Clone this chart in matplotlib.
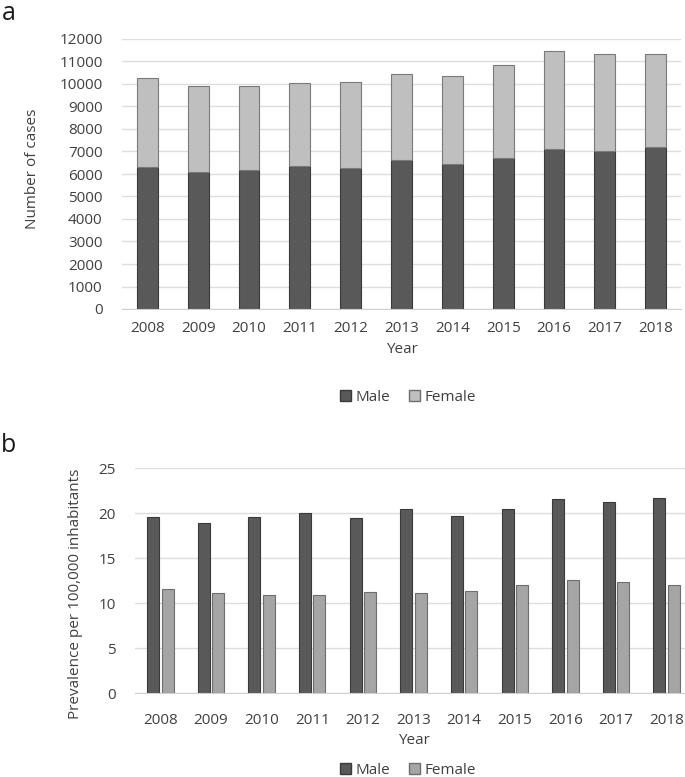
import numpy as np
import matplotlib.pyplot as plt
from matplotlib.patches import Patch

plt.rcParams['font.family'] = ['Open Sans', 'DejaVu Sans']

# data
years = ['2008', '2009', '2010', '2011', '2012', '2013', '2014', '2015', '2016', '2017', '2018']
male_cases = [6300, 6100, 6200, 6350, 6250, 6620, 6450, 6720, 7130, 7020, 7190]
total_cases = [10250, 9930, 9890, 10050, 10100, 10450, 10350, 10860, 11480, 11320, 11350]
female_cases = [t - m for t, m in zip(total_cases, male_cases)]

male_prev = [19.6, 18.9, 19.6, 20.0, 19.5, 20.5, 19.7, 20.5, 21.6, 21.3, 21.7]
female_prev = [11.6, 11.1, 10.9, 10.9, 11.3, 11.2, 11.4, 12.0, 12.6, 12.4, 12.0]

W, H = 685, 777
fig = plt.figure(figsize=(W / 100, H / 100), dpi=100)

dark = '#595959'
txt = '#404040'
grid = '#dedede'


def px_axes(left, right, top, bottom):
    return fig.add_axes([left / W, 1 - bottom / H, (right - left) / W, (bottom - top) / H])


def style(ax):
    for s in ['top', 'right', 'left']:
        ax.spines[s].set_visible(False)
    ax.spines['bottom'].set_color('#d0d0d0')
    ax.tick_params(length=0, labelsize=11, colors=txt)
    ax.yaxis.grid(True, color=grid, lw=1)
    ax.set_axisbelow(True)


x = np.arange(len(years))

# panel a
ax1 = px_axes(122, 681, 39, 309)
ax1.bar(x, male_cases, width=0.41, color=dark, edgecolor='#3a3a3a', lw=0.8)
ax1.bar(x, female_cases, bottom=male_cases, width=0.41, color='#bfbfbf', edgecolor='#7a7a7a', lw=0.8)
ax1.set_xlim(-0.5, 10.5)
ax1.set_ylim(0, 12000)
ax1.set_yticks(np.arange(0, 12001, 1000))
ax1.set_xticks(x, years)
style(ax1)
ax1.tick_params(axis='x', pad=9)
ax1.tick_params(axis='y', pad=14)
ax1.set_xlabel('Year', fontsize=11, color=txt, labelpad=4)
ax1.set_ylabel('Number of cases', fontsize=11, color=txt)
ax1.yaxis.set_label_coords(-0.147, 0.52)

# panel b
ax2 = px_axes(135, 692, 468.3, 693.3)
ax2.bar(x - 0.143, male_prev, width=0.237, color=dark, edgecolor='#3a3a3a', lw=0.8)
ax2.bar(x + 0.143, female_prev, width=0.237, color='#a5a5a5', edgecolor='#6e6e6e', lw=0.8)
ax2.set_xlim(-0.5, 10.5)
ax2.set_ylim(0, 25)
ax2.set_yticks(np.arange(0, 26, 5))
ax2.set_xticks(x, years)
style(ax2)
ax2.tick_params(axis='x', pad=14)
ax2.tick_params(axis='y', pad=14)
ax2.set_xlabel('Year', fontsize=11, color=txt, labelpad=4)
ax2.set_ylabel('Prevalence per 100,000 inhabitants', fontsize=11, color=txt)
ax2.yaxis.set_label_coords(-0.093, 0.44)

# legends
for ypx, fem in [(397.7, '#bfbfbf'), (770, '#a5a5a5')]:
    handles = [Patch(facecolor=dark, edgecolor='#3a3a3a', label='Male'),
               Patch(facecolor=fem, edgecolor='#6e6e6e', label='Female')]
    fig.legend(handles=handles, loc='center', bbox_to_anchor=(408 / W, 1 - ypx / H),
               ncol=2, frameon=False, fontsize=11, handlelength=0.75, handleheight=0.75,
               handletextpad=0.3, columnspacing=1.2, labelcolor=txt)

fig.text(2 / W, 1 - 14 / H, 'a', fontsize=18, color='#1a1a1a', va='center')
fig.text(1 / W, 1 - 445 / H, 'b', fontsize=18, color='#1a1a1a', va='center')

fig.savefig('out.png', dpi=100)
